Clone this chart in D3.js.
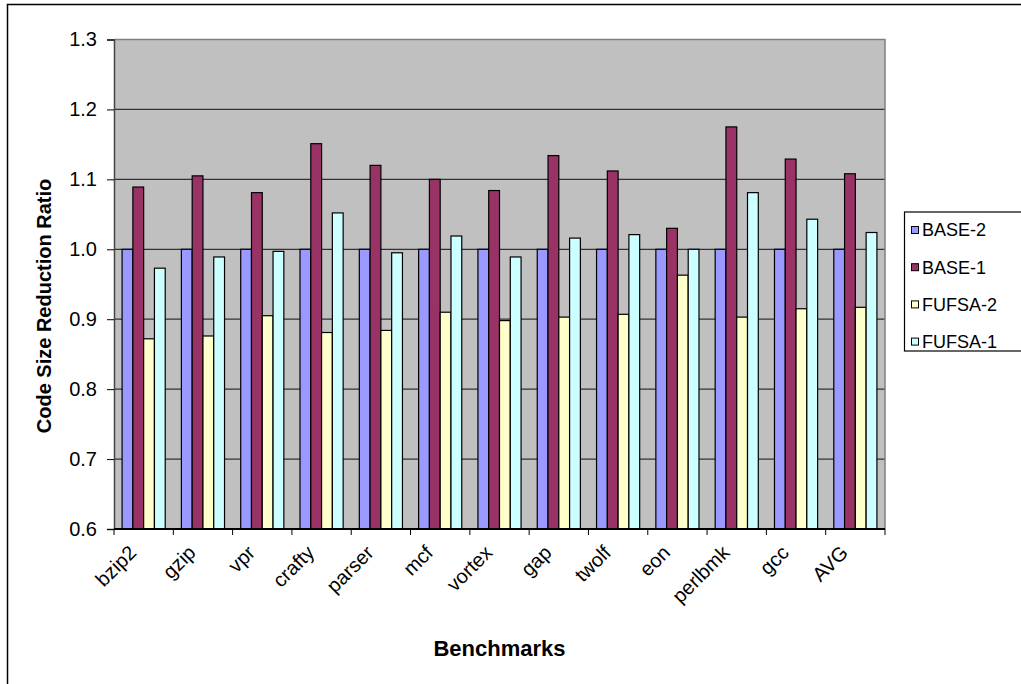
<!DOCTYPE html>
<html>
<head>
<meta charset="utf-8">
<script src="https://cdn.jsdelivr.net/npm/d3@7"></script>
<style>
  html, body { margin: 0; padding: 0; background: #fff; }
  svg { display: block; font-family: "Liberation Sans", Arial, sans-serif; }
</style>
</head>
<body>
<svg id="chart" width="1021" height="684"></svg>
<script>
// Benchmarks on the x axis
const categories = ["bzip2", "gzip", "vpr", "crafty", "parser", "mcf", "vortex",
                    "gap", "twolf", "eon", "perlbmk", "gcc", "AVG"];

// Series names, in drawing order
const seriesNames = ["BASE-2", "BASE-1", "FUFSA-2", "FUFSA-1"];

// Code size reduction ratio per series
const base2  = [1.000, 1.000, 1.000, 1.000, 1.000, 1.000, 1.000, 1.000, 1.000, 1.000, 1.000, 1.000, 1.000];
const base1  = [1.089, 1.105, 1.081, 1.151, 1.120, 1.100, 1.084, 1.134, 1.112, 1.030, 1.175, 1.129, 1.108];
const fufsa2 = [0.872, 0.876, 0.905, 0.881, 0.884, 0.910, 0.898, 0.903, 0.907, 0.963, 0.903, 0.915, 0.917];
const fufsa1 = [0.973, 0.989, 0.997, 1.052, 0.995, 1.019, 0.989, 1.016, 1.021, 1.000, 1.081, 1.043, 1.024];

// Y axis ticks
const yTicks = [0.6, 0.7, 0.8, 0.9, 1.0, 1.1, 1.2, 1.3];

const seriesValues = [base2, base1, fufsa2, fufsa1];
const colors = ["#9999FF", "#993366", "#FFFFCC", "#CCFFFF"];

const rows = categories.map((c, i) => ({
  cat: c,
  vals: seriesNames.map((s, k) => ({ key: s, value: seriesValues[k][i] }))
}));

const svg = d3.select("#chart");
const plot = { left: 114, right: 885, top: 39.5, bottom: 529 };
const fontFamily = "'Liberation Sans', Arial, sans-serif";

// Outer chart frame
svg.append("rect")
  .attr("x", 7.5).attr("y", 4.5)
  .attr("width", 1100).attr("height", 800)
  .attr("fill", "none").attr("stroke", "#000").attr("stroke-width", 1.5);

const x = d3.scaleBand().domain(categories).range([plot.left, plot.right]).padding(0);
const x1 = d3.scaleBand().domain(seriesNames).range([0, x.bandwidth()])
  .paddingInner(0).paddingOuter(0.75);
const y = d3.scaleLinear().domain([0.6, 1.3]).range([plot.bottom, plot.top]);
const color = d3.scaleOrdinal().domain(seriesNames).range(colors);

// Plot background
svg.append("rect")
  .attr("x", plot.left).attr("y", plot.top)
  .attr("width", plot.right - plot.left).attr("height", plot.bottom - plot.top)
  .attr("fill", "#C0C0C0");

// Horizontal gridlines
svg.append("g").selectAll("line")
  .data(yTicks.filter(t => t > 0.6 && t < 1.3))
  .join("line")
  .attr("x1", plot.left).attr("x2", plot.right)
  .attr("y1", d => y(d)).attr("y2", d => y(d))
  .attr("stroke", "#333").attr("stroke-width", 1.2);

// Plot border: top and right in gray
svg.append("path")
  .attr("d", `M${plot.left},${y(1.3)}H${plot.right}V${plot.bottom}`)
  .attr("fill", "none").attr("stroke", "#808080").attr("stroke-width", 1.5);

// Bars
svg.append("g").selectAll("g")
  .data(rows)
  .join("g")
  .attr("transform", d => `translate(${x(d.cat)},0)`)
  .selectAll("rect")
  .data(d => d.vals)
  .join("rect")
  .attr("x", d => x1(d.key))
  .attr("width", x1.bandwidth())
  .attr("y", d => y(d.value))
  .attr("height", d => y(0.6) - y(d.value))
  .attr("fill", d => color(d.key))
  .attr("stroke", "#000").attr("stroke-width", 1.2);

// Y axis
const yAxis = svg.append("g")
  .attr("transform", `translate(${plot.left},0)`)
  .call(d3.axisLeft(y).tickValues(yTicks).tickFormat(d3.format(".1f"))
    .tickSize(7).tickPadding(10));
yAxis.select(".domain").attr("stroke", "#444").attr("stroke-width", 1.5);
yAxis.selectAll(".tick line").attr("stroke", "#000");
yAxis.selectAll(".tick text")
  .attr("font-size", 20).attr("fill", "#000")
  .attr("font-family", fontFamily);

// X axis labels (rotated)
const xAxis = svg.append("g")
  .attr("transform", `translate(0,${plot.bottom})`)
  .call(d3.axisBottom(x).tickSize(0).tickPadding(0));
xAxis.select(".domain").remove();
xAxis.selectAll(".tick text")
  .attr("y", 0).attr("dy", 0)
  .attr("transform", "translate(-6,25) rotate(-45)")
  .attr("text-anchor", "end")
  .attr("font-size", 20).attr("fill", "#000")
  .attr("font-family", fontFamily);

// X axis line and category boundary ticks
const bounds = categories.map(c => x(c)).concat([plot.right]);
svg.append("g").selectAll("line")
  .data(bounds)
  .join("line")
  .attr("x1", d => d).attr("x2", d => d)
  .attr("y1", plot.bottom).attr("y2", plot.bottom + 6)
  .attr("stroke", "#000").attr("stroke-width", 1);
svg.append("line")
  .attr("x1", plot.left).attr("x2", plot.right)
  .attr("y1", plot.bottom).attr("y2", plot.bottom)
  .attr("stroke", "#000").attr("stroke-width", 2);

// Axis titles
svg.append("text")
  .attr("x", (plot.left + plot.right) / 2).attr("y", 656)
  .attr("text-anchor", "middle")
  .attr("font-size", 22).attr("font-weight", "bold")
  .text("Benchmarks");

svg.append("text")
  .attr("transform", "translate(51,306) rotate(-90)")
  .attr("text-anchor", "middle")
  .attr("font-size", 20).attr("font-weight", "bold")
  .text("Code Size Reduction Ratio");

// Legend
const legend = svg.append("g");
legend.append("rect")
  .attr("x", 904.5).attr("y", 212)
  .attr("width", 200).attr("height", 139)
  .attr("fill", "#fff").attr("stroke", "#000").attr("stroke-width", 1.2);

const items = legend.selectAll("g.item")
  .data(seriesNames)
  .join("g")
  .attr("class", "item")
  .attr("transform", (d, i) => `translate(0,${230 + i * 37.2})`);
items.append("rect")
  .attr("x", 911.5).attr("y", -3.5)
  .attr("width", 7).attr("height", 7)
  .attr("fill", d => color(d)).attr("stroke", "#000").attr("stroke-width", 1);
items.append("text")
  .attr("x", 922).attr("y", 0).attr("dy", "0.36em")
  .attr("font-size", 18)
  .text(d => d);
</script>
</body>
</html>
